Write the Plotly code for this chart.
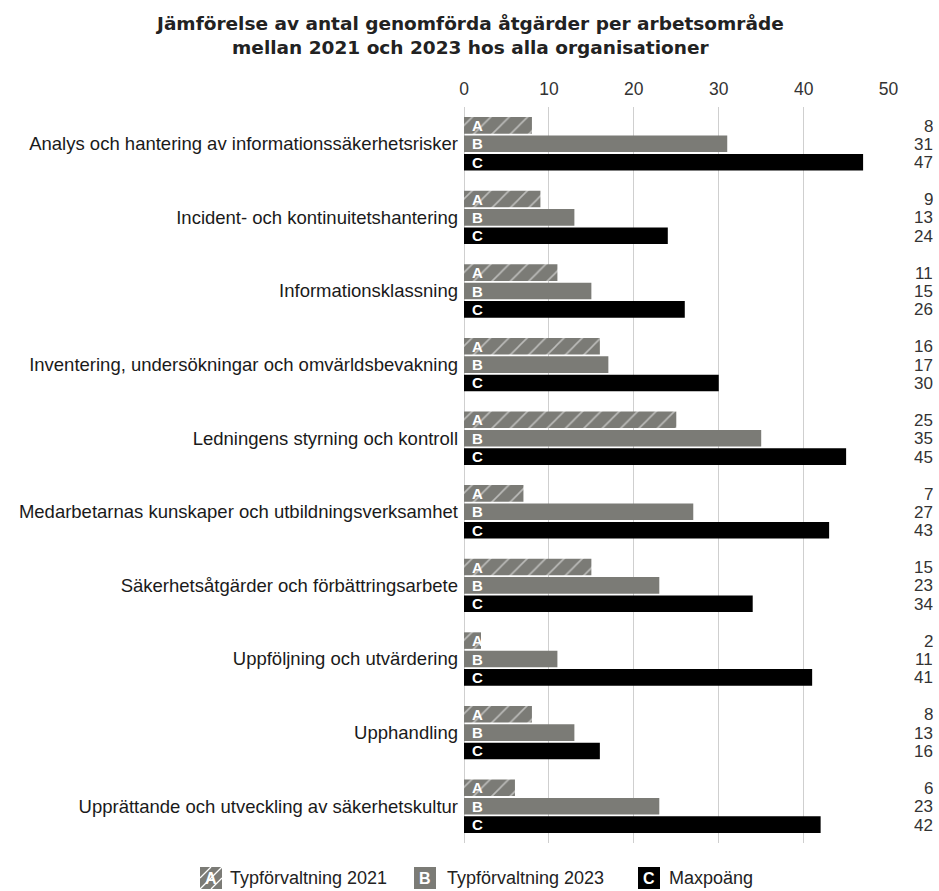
import plotly.graph_objects as go

categories = [
    "Analys och hantering av informationssäkerhetsrisker",
    "Incident- och kontinuitetshantering",
    "Informationsklassning",
    "Inventering, undersökningar och omvärldsbevakning",
    "Ledningens styrning och kontroll",
    "Medarbetarnas kunskaper och utbildningsverksamhet",
    "Säkerhetsåtgärder och förbättringsarbete",
    "Uppföljning och utvärdering",
    "Upphandling",
    "Upprättande och utveckling av säkerhetskultur",
]
typ_2021 = [8, 9, 11, 16, 25, 7, 15, 2, 8, 6]
typ_2023 = [31, 13, 15, 17, 35, 27, 23, 11, 13, 23]
maxpoang = [47, 24, 26, 30, 45, 43, 34, 41, 16, 42]

series_names = ["Typförvaltning 2021", "Typförvaltning 2023", "Maxpoäng"]
series_letters = ["A", "B", "C"]
series_values = [typ_2021, typ_2023, maxpoang]

GRAY = "#7b7b76"
colors = [GRAY, GRAY, "#000000"]
patterns = ["/", "", ""]

W, H = 939, 891
L, R, T, B = 464, 50, 107, 48
PW, PH = W - L - R, H - T - B


def px(x):
    """page pixel x -> paper x"""
    return (x - L) / PW


def py(y):
    """page pixel y -> paper y"""
    return (H - B - y) / PH


fig = go.Figure()
for name, vals, color, pattern in zip(series_names, series_values, colors, patterns):
    marker = dict(color=color, line=dict(width=0))
    if pattern:
        marker["pattern"] = dict(shape=pattern, fgcolor="white", bgcolor=color,
                                 size=13, solidity=0.12)
    fig.add_trace(go.Bar(
        name=name, y=categories, x=vals, orientation="h",
        marker=marker, showlegend=False, hoverinfo="x+name",
    ))

# letters at the start of each bar and values in the right column
slot = 18.3
for i, cat in enumerate(categories):
    for k, (letter, vals) in enumerate(zip(series_letters, series_values)):
        fig.add_annotation(
            x=0, xref="x", y=cat, yref="y", yshift=(1 - k) * slot, xshift=6,
            text=f"<b>{letter}</b>", showarrow=False, xanchor="left",
            font=dict(family="Liberation Sans", size=15, color="white"),
        )
        fig.add_annotation(
            x=px(935), xref="paper", y=cat, yref="y", yshift=(1 - k) * slot,
            text=str(vals[i]), showarrow=False, xanchor="right", yanchor="middle",
            height=18, valign="middle",
            font=dict(family="Liberation Sans", size=17, color="#333333"),
        )

# title
fig.add_annotation(
    x=px(W / 2), xref="paper", y=py(35), yref="paper",
    text="Jämförelse av antal genomförda åtgärder per arbetsområde<br>mellan 2021 och 2023 hos alla organisationer",
    showarrow=False, xanchor="center", yanchor="middle",
    font=dict(family="DejaVu Sans", size=18.5, color="#222222", weight="bold"),
)

# legend drawn as boxes with letters
legend_items = [(200, 228), (414, 445), (638, 667)]
icon = 22
ly = 878
shapes = []
for (ix, tx), name, letter, color, pattern in zip(legend_items, series_names, series_letters, colors, patterns):
    y0, y1 = ly - icon / 2, ly + icon / 2
    shapes.append(dict(type="rect", xref="paper", yref="paper",
                       x0=px(ix), x1=px(ix + icon), y0=py(y1), y1=py(y0),
                       fillcolor=color, line=dict(width=0), layer="above"))
    if pattern:
        for k in (-11, 0, 11):
            xa, ya = ix + max(0, k), y1 - max(0, -k)
            xb, yb = ix + icon - max(0, -k), y0 + max(0, k)
            shapes.append(dict(type="line", xref="paper", yref="paper",
                               x0=px(xa), y0=py(ya), x1=px(xb), y1=py(yb),
                               line=dict(color="white", width=1.2), layer="above"))
    fig.add_annotation(
        x=px(ix + icon / 2), xref="paper", y=py(ly), yref="paper",
        text=f"<b>{letter}</b>", showarrow=False, xanchor="center", yanchor="middle",
        font=dict(family="Liberation Sans", size=16, color="white"),
    )
    fig.add_annotation(
        x=px(tx), xref="paper", y=py(ly), yref="paper",
        text=name, showarrow=False, xanchor="left", yanchor="middle",
        font=dict(family="Liberation Sans", size=18, color="#222222"),
    )

fig.update_layout(
    width=W, height=H,
    paper_bgcolor="white", plot_bgcolor="white",
    barmode="group", bargap=0.25, bargroupgap=0.1,
    margin=dict(l=L, r=R, t=T, b=B, autoexpand=False),
    showlegend=False,
    shapes=shapes,
    xaxis=dict(
        side="top", range=[0, 50.05], dtick=10,
        showgrid=True, gridcolor="#cfcfcf", gridwidth=1,
        zeroline=True, zerolinecolor="#cfcfcf", zerolinewidth=1,
        tickfont=dict(family="Liberation Sans", size=17.5, color="#333333"),
        ticks="", automargin=False, ticklabelstandoff=8,
    ),
    yaxis=dict(
        autorange="reversed", showgrid=False,
        tickfont=dict(family="Liberation Sans", size=18.5, color="#1a1a1a"),
        ticks="", automargin=False, ticklabelstandoff=5,
    ),
    font=dict(family="Liberation Sans"),
)

fig.write_html("out.html")
